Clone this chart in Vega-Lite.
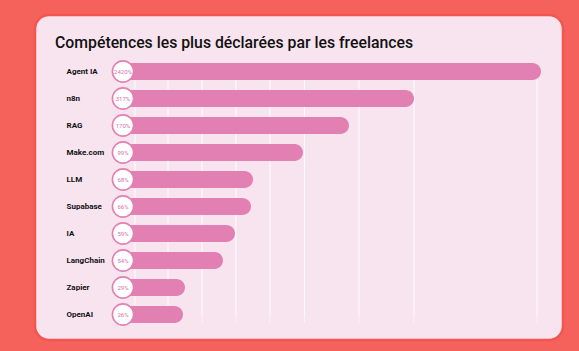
{
  "$schema": "https://vega.github.io/schema/vega-lite/v6.json",
  "width": 528,
  "height": 325,
  "autosize": {"type": "none"},
  "padding": {"left": 35, "top": 15, "right": 16, "bottom": 11},
  "background": "#F5625C",
  "title": {
    "text": "Compétences les plus déclarées par les freelances",
    "anchor": "start",
    "frame": "group",
    "dx": 20,
    "offset": -49,
    "baseline": "alphabetic",
    "font": "Roboto",
    "fontSize": 15.8,
    "fontWeight": 500,
    "color": "#111111"
  },
  "datasets": {
    "skills": [
      {"skill": "Agent IA", "value": 2420, "label": "2420%"},
      {"skill": "n8n", "value": 317, "label": "317%"},
      {"skill": "RAG", "value": 170, "label": "170%"},
      {"skill": "Make.com", "value": 99, "label": "99%"},
      {"skill": "LLM", "value": 68, "label": "68%"},
      {"skill": "Supabase", "value": 66, "label": "66%"},
      {"skill": "IA", "value": 59, "label": "59%"},
      {"skill": "LangChain", "value": 54, "label": "54%"},
      {"skill": "Zapier", "value": 29, "label": "29%"},
      {"skill": "OpenAI", "value": 26, "label": "26%"}
    ],
    "grid": [
      {"value": 5.2, "top": "Agent IA", "bottom": "OpenAI"},
      {"value": 19.5, "top": "Agent IA", "bottom": "OpenAI"},
      {"value": 40.2, "top": "Agent IA", "bottom": "OpenAI"},
      {"value": 59.4, "top": "Agent IA", "bottom": "OpenAI"},
      {"value": 78.5, "top": "Agent IA", "bottom": "OpenAI"},
      {"value": 101.3, "top": "Agent IA", "bottom": "OpenAI"},
      {"value": 192.6, "top": "Agent IA", "bottom": "OpenAI"},
      {"value": 317, "top": "Agent IA", "bottom": "OpenAI"},
      {"value": 2354, "top": "Agent IA", "bottom": "OpenAI"}
    ]
  },
  "layer": [
    {
      "data": {"name": "grid"},
      "mark": {"type": "rule", "color": "#FFFFFF", "strokeWidth": 1, "opacity": 0.55},
      "encoding": {
        "x": {"field": "value", "type": "quantitative", "scale": {"type": "linear", "domain": [0, 26, 29, 54, 59, 66, 68, 99, 170, 317, 2420], "range": [88, 148, 150, 188, 200, 216, 218, 268, 314, 379, 506], "nice": false, "zero": false}},
        "y": {"field": "top", "type": "nominal", "bandPosition": 0, "scale": {"domain": ["Agent IA", "n8n", "RAG", "Make.com", "LLM", "Supabase", "IA", "LangChain", "Zapier", "OpenAI"], "range": [43, 313], "paddingInner": 0.37, "paddingOuter": 0.185}},
        "y2": {"field": "bottom"}
      }
    },
    {
      "data": {"name": "grid"},
      "mark": {"type": "rule", "color": "#FFFFFF", "strokeWidth": 1, "opacity": 0.55},
      "encoding": {
        "x": {"field": "value", "type": "quantitative"},
        "y": {"field": "bottom", "type": "nominal", "bandPosition": 1},
        "y2": {"field": "top"}
      }
    },
    {
      "data": {"name": "skills"},
      "mark": {"type": "bar", "color": "#E380B3", "cornerRadius": 8.5},
      "encoding": {
        "x": {"field": "value", "type": "quantitative"},
        "x2": {"datum": 0},
        "y": {"field": "skill", "type": "nominal"}
      }
    },
    {
      "data": {"name": "skills"},
      "mark": {"type": "circle", "fill": "#FFFFFF", "stroke": "#E380B3", "strokeWidth": 1.6, "size": 450, "opacity": 1},
      "encoding": {
        "x": {"datum": 0, "type": "quantitative"},
        "y": {"field": "skill", "type": "nominal"}
      }
    },
    {
      "data": {"name": "skills"},
      "mark": {"type": "text", "font": "Roboto", "fontSize": 6, "color": "#D96FA9", "align": "center", "baseline": "middle"},
      "encoding": {
        "x": {"datum": 0, "type": "quantitative"},
        "y": {"field": "skill", "type": "nominal"},
        "text": {"field": "label"}
      }
    }
  ],
  "resolve": {"scale": {"x": "shared", "y": "shared"}},
  "config": {
    "view": {"fill": "#F8E4EF", "stroke": "#F2564F", "strokeWidth": 2.5, "cornerRadius": 14},
    "axisX": {"disable": true},
    "axisY": {
      "title": null,
      "domain": false,
      "ticks": false,
      "grid": false,
      "labelAlign": "left",
      "offset": -31,
      "labelPadding": 0,
      "labelFont": "Roboto",
      "labelFontWeight": "bold",
      "labelFontSize": 8,
      "labelColor": "#111111"
    }
  }
}
